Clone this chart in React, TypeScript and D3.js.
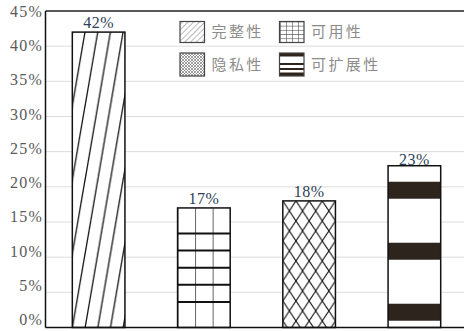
import React from "react";
import * as d3 from "d3";

const categories = ["完整性", "可用性", "隐私性", "可扩展性"];
const values = [42, 17, 18, 23];
const yTicks = [0, 5, 10, 15, 20, 25, 30, 35, 40, 45];
const legendRows = [
  ["完整性", "可用性"],
  ["隐私性", "可扩展性"],
];

const W = 464;
const H = 331;
const M = { left: 45.5, top: 11, bottom: 327.5, right: 467 };
const SERIF = "'Liberation Serif', 'DejaVu Serif', serif";
const CJK = "'Noto Sans CJK SC', sans-serif";
const DARK = "#2e241e";

export default function App() {
  const x = d3.scaleBand<string>().domain(categories).range([46, M.right]).paddingInner(0.5).paddingOuter(0.25);
  const y = d3.scaleLinear().domain([0, 45]).range([M.bottom, M.top]);
  const yLabel = d3.scaleLinear().domain([0, 45]).range([321.5, 13]);
  const bw = x.bandwidth();

  const bars = categories.map((c, i) => ({
    c,
    v: values[i],
    x0: x(c) as number,
    top: y(values[i]),
    h: y(0) - y(values[i]),
  }));

  const [b1, b2, b3, b4] = bars;
  const hatchW = 12.7, hatchH = 74;
  const diaW = bw / 4, diaH = 20;
  const stripeP = 61;
  const gridMargin = 25.5;
  const gridSpacing = (b2.h - 2 * gridMargin) / 4;

  const swatchFill: Record<string, string> = {
    "完整性": "url(#lg1)",
    "可用性": "url(#lg2)",
    "隐私性": "url(#lg3)",
    "可扩展性": "url(#lg4)",
  };

  return (
    <svg width={W} height={H} style={{ position: "absolute", left: 0, top: 0, background: "#fff" }}>
      <defs>
        <pattern id="p1" patternUnits="userSpaceOnUse" x={b1.x0} y={b1.top} width={hatchW} height={hatchH}>
          <g stroke="#111" strokeWidth={1.3}>
            <line x1={hatchW} y1={0} x2={0} y2={hatchH} />
            <line x1={2 * hatchW} y1={0} x2={hatchW} y2={hatchH} />
            <line x1={0} y1={0} x2={-hatchW} y2={hatchH} />
          </g>
        </pattern>
        <pattern id="p2v" patternUnits="userSpaceOnUse" x={b2.x0} y={0} width={bw / 3} height={H}>
          <line x1={0} y1={0} x2={0} y2={H} stroke="#111" strokeWidth={1.3} />
        </pattern>
        <pattern id="p3" patternUnits="userSpaceOnUse" x={b3.x0} y={b3.top} width={diaW} height={diaH}>
          <g stroke="#111" strokeWidth={1.1}>
            <line x1={0} y1={0} x2={diaW} y2={diaH} />
            <line x1={-diaW} y1={0} x2={0} y2={diaH} />
            <line x1={diaW} y1={0} x2={2 * diaW} y2={diaH} />
            <line x1={diaW} y1={0} x2={0} y2={diaH} />
            <line x1={0} y1={0} x2={-diaW} y2={diaH} />
            <line x1={2 * diaW} y1={0} x2={diaW} y2={diaH} />
          </g>
        </pattern>
        <pattern id="p4" patternUnits="userSpaceOnUse" x={b4.x0} y={b4.top} width={bw} height={stripeP}>
          <rect x={0} y={16} width={bw} height={17} fill={DARK} />
        </pattern>
        <pattern id="lg1" patternUnits="userSpaceOnUse" width={4} height={4} patternTransform="rotate(45)">
          <line x1={0} y1={0} x2={0} y2={4} stroke="#777" strokeWidth={1} />
        </pattern>
        <pattern id="lg2" patternUnits="userSpaceOnUse" x={280} y={21.5} width={6} height={4.2}>
          <line x1={0} y1={0} x2={0} y2={4.2} stroke="#333" strokeWidth={1} />
          <line x1={0} y1={0} x2={6} y2={0} stroke="#333" strokeWidth={1} />
        </pattern>
        <pattern id="lg3" patternUnits="userSpaceOnUse" width={3} height={3}>
          <g stroke="#777" strokeWidth={0.7}>
            <line x1={0} y1={0} x2={3} y2={3} />
            <line x1={3} y1={0} x2={0} y2={3} />
          </g>
        </pattern>
        <pattern id="lg4" patternUnits="userSpaceOnUse" x={0} y={53} width={25} height={23}>
          <rect x={0} y={0} width={25} height={3.5} fill={DARK} />
          <rect x={0} y={10} width={25} height={2} fill={DARK} />
          <rect x={0} y={15} width={25} height={2} fill={DARK} />
          <rect x={0} y={19.5} width={25} height={3.5} fill={DARK} />
        </pattern>
      </defs>

      {/* gridlines */}
      {yTicks.map((t) => (
        <line key={t} x1={M.left} x2={W} y1={y(t)} y2={y(t)} stroke={t === 45 ? "#222" : "#dcdcdc"} strokeWidth={t === 45 ? 1.3 : 1} />
      ))}

      {/* tick labels */}
      {yTicks.map((t) => (
        <text key={t} x={43} y={yLabel(t)} textAnchor="end" dominantBaseline="middle" fontFamily={SERIF} fontSize={16} letterSpacing={1.2} fill="#5a5a5a">
          {`${t}%`}
        </text>
      ))}

      {/* legend */}
      {legendRows.map((row, ri) =>
        row.map((name, ci) => {
          const sx = 180 + ci * 99.5;
          const sy = 21.5 + ri * 31.5;
          const sh = ri === 0 ? 21 : 23;
          return (
            <g key={name}>
              <rect x={sx} y={sy} width={24.5} height={sh} fill="#fff" />
              <rect x={sx} y={sy} width={24.5} height={sh} fill={swatchFill[name]} stroke="#444" strokeWidth={1.2} />
              <text x={sx + 31.5} y={sy + sh / 2 + 1} dominantBaseline="middle" fontFamily={CJK} fontSize={15} letterSpacing={2.4} fill="#8c8c8c">
                {name}
              </text>
            </g>
          );
        })
      )}

      {/* bars */}
      <rect x={b1.x0} y={b1.top} width={bw} height={b1.h} fill="#fff" />
      <rect x={b1.x0} y={b1.top} width={bw} height={b1.h} fill="url(#p1)" stroke="#111" strokeWidth={1.5} />

      <rect x={b2.x0} y={b2.top} width={bw} height={b2.h} fill="#fff" />
      <rect x={b2.x0} y={b2.top} width={bw} height={b2.h} fill="url(#p2v)" />
      {d3.range(5).map((k) => (
        <line key={k} x1={b2.x0} x2={b2.x0 + bw} y1={b2.top + gridMargin + k * gridSpacing} y2={b2.top + gridMargin + k * gridSpacing} stroke="#111" strokeWidth={2} />
      ))}
      <rect x={b2.x0} y={b2.top} width={bw} height={b2.h} fill="none" stroke="#111" strokeWidth={1.5} />

      <rect x={b3.x0} y={b3.top} width={bw} height={b3.h} fill="#fff" />
      <rect x={b3.x0} y={b3.top} width={bw} height={b3.h} fill="url(#p3)" stroke="#111" strokeWidth={1.5} />

      <rect x={b4.x0} y={b4.top} width={bw} height={b4.h} fill="#fff" />
      <rect x={b4.x0} y={b4.top} width={bw} height={b4.h} fill="url(#p4)" stroke="#111" strokeWidth={1.5} />

      {/* value labels */}
      {bars.map((b) => (
        <text key={b.c} x={b.x0 + bw / 2} y={b.top - (b.v === 23 ? 0.5 : 4)} textAnchor="middle" fontFamily={SERIF} fontSize={16} letterSpacing={0.5} fill="#2d3f57">
          {`${b.v}%`}
        </text>
      ))}

      {/* axes */}
      <line x1={M.left} x2={M.left} y1={M.top} y2={M.bottom} stroke="#111" strokeWidth={1.5} />
      <line x1={M.left} x2={W} y1={M.bottom} y2={M.bottom} stroke="#111" strokeWidth={1.5} />
    </svg>
  );
}
